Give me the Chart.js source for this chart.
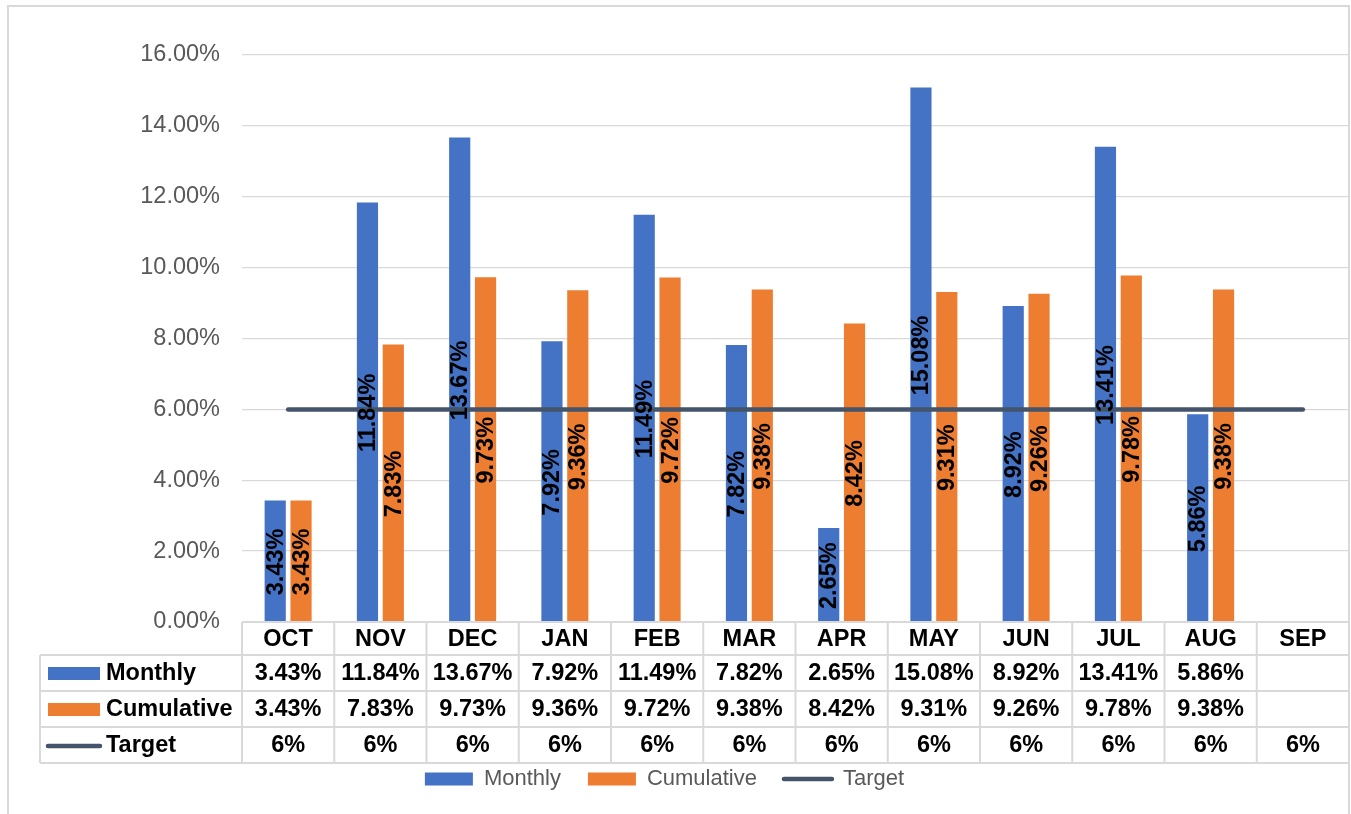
<!DOCTYPE html>
<html>
<head>
<meta charset="utf-8">
<script src="https://cdn.jsdelivr.net/npm/chart.js@4/dist/chart.umd.min.js"></script>
<style>
  html, body { margin: 0; padding: 0; background: #ffffff; }
  #wrap { width: 1351px; height: 814px; }
</style>
</head>
<body>
<div id="wrap"><canvas id="chart" width="1351" height="814"></canvas></div>
<script>
// Monthly and cumulative rates by fiscal month, with a flat 6% target
const months = ['OCT', 'NOV', 'DEC', 'JAN', 'FEB', 'MAR', 'APR', 'MAY', 'JUN', 'JUL', 'AUG', 'SEP'];
const monthly = [3.43, 11.84, 13.67, 7.92, 11.49, 7.82, 2.65, 15.08, 8.92, 13.41, 5.86, null];
const cumulative = [3.43, 7.83, 9.73, 9.36, 9.72, 9.38, 8.42, 9.31, 9.26, 9.78, 9.38, null];
const target = [6, 6, 6, 6, 6, 6, 6, 6, 6, 6, 6, 6];
const yTicks = [0, 2, 4, 6, 8, 10, 12, 14, 16];

const FONT = '"Liberation Sans", Arial, Helvetica, sans-serif';
const TEXT_SIZE = 23.5;
const BLUE = '#4472C4';
const ORANGE = '#ED7D31';
const SLATE = '#44546A';
const GRID = '#D9D9D9';

const pct2 = v => v.toFixed(2) + '%';
const pct0 = v => v + '%';

// Rows of the data table under the plot
const tableRows = [
  { name: 'Monthly', values: monthly, fmt: pct2, key: 'box', color: BLUE },
  { name: 'Cumulative', values: cumulative, fmt: pct2, key: 'box', color: ORANGE },
  { name: 'Target', values: target, fmt: pct0, key: 'line', color: SLATE }
];

// Chart frame
const framePlugin = {
  id: 'frame',
  beforeDraw(chart) {
    const ctx = chart.ctx;
    ctx.save();
    ctx.strokeStyle = GRID;
    ctx.lineWidth = 2;
    ctx.strokeRect(8, 6, 1341, 830);
    ctx.restore();
  },
  afterLayout(chart) {
    // nudge the legend row slightly left of the canvas centre
    if (chart.legend) {
      chart.legend.left -= 10;
      chart.legend.right -= 10;
    }
  }
};

// Rotated value labels centred in each bar
const barLabelPlugin = {
  id: 'barLabels',
  afterDatasetsDraw(chart) {
    const ctx = chart.ctx;
    ctx.save();
    ctx.font = 'bold ' + TEXT_SIZE + 'px ' + FONT;
    ctx.fillStyle = '#000000';
    ctx.textAlign = 'center';
    ctx.textBaseline = 'middle';
    [0, 1].forEach(di => {
      const meta = chart.getDatasetMeta(di);
      const data = chart.data.datasets[di].data;
      meta.data.forEach((el, i) => {
        const v = data[i];
        if (v === null || v === undefined) return;
        ctx.save();
        ctx.translate(el.x + 1, (el.y + el.base) / 2 + 1);
        ctx.rotate(-Math.PI / 2);
        ctx.fillText(pct2(v), 0, 0);
        ctx.restore();
      });
    });
    ctx.restore();
  }
};

// Data table drawn against the category scale
const dataTablePlugin = {
  id: 'dataTable',
  afterDraw(chart) {
    const ctx = chart.ctx;
    const xs = chart.scales.x;
    const area = chart.chartArea;
    const step = xs.getPixelForTick(1) - xs.getPixelForTick(0);
    const edges = [];
    for (let i = 0; i <= months.length; i++) {
      edges.push(xs.getPixelForTick(0) - step / 2 + i * step);
    }
    const tableLeft = 40;
    const top = area.bottom;
    const rowTops = [top, top + 33, top + 69, top + 105, top + 141];

    ctx.save();
    ctx.strokeStyle = GRID;
    ctx.lineWidth = 2;
    ctx.beginPath();
    // horizontal rules
    ctx.moveTo(edges[0], rowTops[0]);
    ctx.lineTo(edges[edges.length - 1], rowTops[0]);
    for (let r = 1; r < rowTops.length; r++) {
      ctx.moveTo(tableLeft, rowTops[r]);
      ctx.lineTo(edges[edges.length - 1], rowTops[r]);
    }
    // vertical rules
    edges.forEach(x => {
      ctx.moveTo(x, rowTops[0]);
      ctx.lineTo(x, rowTops[4]);
    });
    ctx.moveTo(tableLeft, rowTops[1]);
    ctx.lineTo(tableLeft, rowTops[4]);
    ctx.stroke();

    ctx.fillStyle = '#000000';
    ctx.font = 'bold ' + TEXT_SIZE + 'px ' + FONT;
    ctx.textBaseline = 'middle';
    ctx.textAlign = 'center';
    months.forEach((m, i) => {
      ctx.fillText(m, (edges[i] + edges[i + 1]) / 2, (rowTops[0] + rowTops[1]) / 2 + 1);
    });

    tableRows.forEach((row, r) => {
      const yc = (rowTops[r + 1] + rowTops[r + 2]) / 2 + 1;
      // key
      if (row.key === 'box') {
        ctx.fillStyle = row.color;
        ctx.fillRect(48, yc - 7, 52, 13);
      } else {
        ctx.strokeStyle = row.color;
        ctx.lineWidth = 4.5;
        ctx.lineCap = 'round';
        ctx.beginPath();
        ctx.moveTo(48, yc);
        ctx.lineTo(100, yc);
        ctx.stroke();
      }
      ctx.fillStyle = '#000000';
      ctx.textAlign = 'left';
      ctx.fillText(row.name, 106, yc);
      ctx.textAlign = 'center';
      row.values.forEach((v, i) => {
        if (v === null || v === undefined) return;
        ctx.fillText(row.fmt(v), (edges[i] + edges[i + 1]) / 2, yc);
      });
    });
    ctx.restore();
  }
};

new Chart(document.getElementById('chart'), {
  data: {
    labels: months,
    datasets: [
      {
        type: 'bar',
        label: 'Monthly',
        data: monthly,
        backgroundColor: BLUE,
        categoryPercentage: 0.56,
        barPercentage: 0.82
      },
      {
        type: 'bar',
        label: 'Cumulative',
        data: cumulative,
        backgroundColor: ORANGE,
        categoryPercentage: 0.56,
        barPercentage: 0.82
      },
      {
        type: 'line',
        label: 'Target',
        data: target,
        borderColor: SLATE,
        backgroundColor: SLATE,
        borderWidth: 4.5,
        borderCapStyle: 'round',
        pointRadius: 0,
        pointHoverRadius: 0,
        fill: false,
        order: -1
      }
    ]
  },
  options: {
    responsive: false,
    animation: false,
    layout: { padding: { left: 0, right: 2, top: 55, bottom: 14 } },
    scales: {
      x: {
        type: 'category',
        offset: true,
        grid: { display: false },
        border: { display: false },
        ticks: { display: false },
        afterFit(scale) { scale.height = 119; }
      },
      y: {
        min: 0,
        max: 16,
        afterBuildTicks(scale) { scale.ticks = yTicks.map(v => ({ value: v })); },
        afterFit(scale) { scale.width = 242; },
        grid: { color: GRID, lineWidth: 1.3, drawTicks: false },
        border: { display: false },
        ticks: {
          padding: 22,
          color: '#595959',
          font: { family: FONT, size: TEXT_SIZE },
          callback: v => pct2(v)
        }
      }
    },
    plugins: {
      tooltip: { enabled: false },
      legend: {
        position: 'bottom',
        labels: {
          usePointStyle: true,
          pointStyleWidth: 48,
          boxHeight: 13,
          padding: 27,
          color: '#595959',
          font: { family: FONT, size: 22 },
          generateLabels() {
            return [
              { text: 'Monthly', fillStyle: BLUE, strokeStyle: BLUE, lineWidth: 0, pointStyle: 'rect', datasetIndex: 0, fontColor: '#595959' },
              { text: 'Cumulative', fillStyle: ORANGE, strokeStyle: ORANGE, lineWidth: 0, pointStyle: 'rect', datasetIndex: 1, fontColor: '#595959' },
              { text: 'Target', fillStyle: SLATE, strokeStyle: SLATE, lineWidth: 4.5, lineCap: 'round', pointStyle: 'line', datasetIndex: 2, fontColor: '#595959' }
            ];
          }
        }
      }
    }
  },
  plugins: [framePlugin, barLabelPlugin, dataTablePlugin]
});
</script>
</body>
</html>
